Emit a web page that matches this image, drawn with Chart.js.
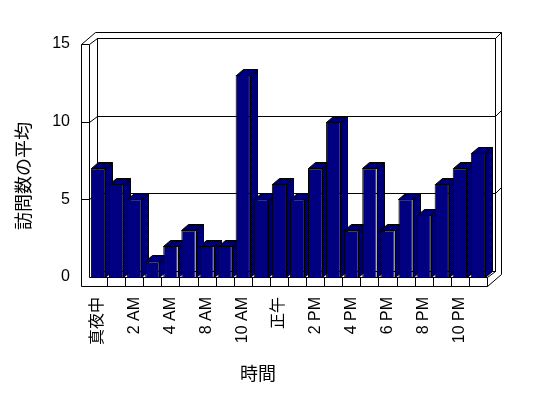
<!DOCTYPE html>
<html>
<head>
<meta charset="utf-8">
<title>訪問数の平均</title>
<script src="https://cdn.jsdelivr.net/npm/chart.js@4.4.1/dist/chart.umd.min.js"></script>
<style>
  html, body { margin: 0; padding: 0; background: #fff; }
  #chart { display: block; }
</style>
</head>
<body>
<canvas id="chart" width="548" height="398"></canvas>
<script>
/* ---------- Data ---------- */
const hourLabels = [
  "真夜中", "1 AM", "2 AM", "3 AM", "4 AM", "6 AM", "8 AM", "9 AM", "10 AM", "11 AM", "正午",
  "1 PM", "2 PM", "3 PM", "4 PM", "5 PM", "6 PM", "7 PM", "8 PM", "9 PM", "10 PM", "11 PM"
];
const visitAverages = [7, 6, 5, 1, 2, 3, 2, 2, 13, 5, 6, 5, 7, 10, 3, 7, 3, 5, 4, 6, 7, 8];
const yTickValues = [0, 5, 10, 15];
const xTitle = "時間";
const yTitle = "訪問数の平均";

const fontFamily = '"Liberation Sans", Arial, "Noto Sans CJK JP", sans-serif';
const barColor = "#000080";

/* ---------- Helpers ---------- */
function makeDitherPattern(ctx) {
  const tile = document.createElement("canvas");
  tile.width = 2;
  tile.height = 2;
  const t = tile.getContext("2d");
  t.fillStyle = "#000";
  t.fillRect(0, 0, 2, 2);
  t.fillStyle = barColor;
  t.fillRect(0, 0, 1, 1);
  t.fillRect(1, 1, 1, 1);
  return ctx.createPattern(tile, "repeat");
}

function line(ctx, x1, y1, x2, y2) {
  ctx.beginPath();
  ctx.moveTo(Math.round(x1) + 0.5, Math.round(y1) + 0.5);
  ctx.lineTo(Math.round(x2) + 0.5, Math.round(y2) + 0.5);
  ctx.stroke();
}

function poly(ctx, pts, fill) {
  ctx.beginPath();
  pts.forEach((p, i) => {
    const px = Math.round(p[0]) + 0.5;
    const py = Math.round(p[1]) + 0.5;
    if (i === 0) ctx.moveTo(px, py);
    else ctx.lineTo(px, py);
  });
  ctx.closePath();
  ctx.fillStyle = fill;
  ctx.fill();
  ctx.stroke();
}

/* ---------- 3D box plugin ---------- */
const box3d = {
  id: "box3d",
  beforeDatasetsDraw(chart) {
    const { ctx, chartArea, scales } = chart;
    const L = chartArea.left, R = chartArea.right, T = chartArea.top, B = chartArea.bottom;
    const wx = 8, wy = -6;     // back wall depth
    const sx = 14, sy = -12;   // outer shell
    const wall = 8, floor = 9; // wall / floor thickness

    ctx.save();
    ctx.strokeStyle = "#000";
    ctx.lineWidth = 1;

    // back wall
    ctx.strokeRect(Math.round(L + wx) + 0.5, Math.round(T + wy) + 0.5,
      Math.round(R - L), Math.round(B - T));

    // grid lines on walls
    yTickValues.forEach((v) => {
      if (v === 0) return;
      const yy = scales.y.getPixelForValue(v);
      line(ctx, L - wall, yy, L, yy);
      line(ctx, L, yy, L + wx, yy + wy);
      line(ctx, L + wx, yy + wy, R + wx, yy + wy);
      line(ctx, R + wx, yy + wy, R + sx, yy + sy);
    });

    // left wall
    line(ctx, L - wall, T, L - wall, B + floor);
    line(ctx, L, T, L, B);
    line(ctx, L - wall, T, L - wall + sx, T + sy);

    // outer shell
    line(ctx, L - wall + sx, T + sy, R + sx, T + sy);
    line(ctx, R + sx, T + sy, R + sx, B + floor + sy);

    // floor
    line(ctx, L - wall, B + floor, R, B + floor);
    line(ctx, L, B, R, B);
    line(ctx, R, B, R, B + floor);
    line(ctx, R, B + floor, R + sx, B + floor + sy);
    line(ctx, R, B, R + wx, B + wy);

    // category dividers on floor front
    const n = hourLabels.length;
    const step = (R - L) / n;
    for (let i = 1; i < n; i++) {
      const xx = scales.x.getPixelForValue(i) - step / 2;
      line(ctx, xx, B, xx, B + floor);
    }

    // bar sides and tops
    const dither = makeDitherPattern(ctx);
    const bx = 7, by = -6;
    chart.getDatasetMeta(0).data.forEach((bar) => {
      const x0 = bar.x - bar.width / 2;
      const x1 = bar.x + bar.width / 2;
      const top = bar.y;
      const base = bar.base;
      poly(ctx, [[x1, top], [x1 + bx, top + by], [x1 + bx, base + by], [x1, base]], dither);
      poly(ctx, [[x0, top], [x0 + bx, top + by], [x1 + bx, top + by], [x1, top]], dither);
    });

    ctx.restore();
  },
  afterDraw(chart) {
    const { ctx } = chart;
    ctx.save();
    ctx.fillStyle = "#000";
    ctx.font = "18px " + fontFamily;
    ctx.textAlign = "center";
    ctx.textBaseline = "middle";
    ctx.fillText(xTitle, 258, 375);
    ctx.translate(25, 176);
    ctx.rotate(-Math.PI / 2);
    ctx.fillText(yTitle, 0, 0);
    ctx.restore();
  }
};

/* ---------- Chart ---------- */
new Chart(document.getElementById("chart"), {
  type: "bar",
  data: {
    labels: hourLabels,
    datasets: [
      {
        data: visitAverages,
        backgroundColor: barColor,
        borderColor: "#000",
        borderWidth: 1,
        barPercentage: 0.79,
        categoryPercentage: 1
      }
    ]
  },
  options: {
    responsive: false,
    animation: false,
    devicePixelRatio: 1,
    layout: {
      padding: { top: 44, right: 61, left: 0, bottom: 0 }
    },
    plugins: {
      legend: { display: false },
      tooltip: { enabled: false }
    },
    scales: {
      x: {
        grid: { display: false, drawTicks: false },
        border: { display: false },
        ticks: {
          autoSkip: false,
          maxRotation: 90,
          minRotation: 90,
          padding: 20,
          color: "#000",
          font: { family: fontFamily, size: 16 },
          callback: function (value, index) {
            return index % 2 === 0 ? hourLabels[index] : "";
          }
        },
        afterFit: function (scale) {
          scale.height = 121;
        }
      },
      y: {
        min: 0,
        max: 15,
        grid: { display: false, drawTicks: false },
        border: { display: false },
        ticks: {
          padding: 19,
          color: "#000",
          font: { family: fontFamily, size: 16 }
        },
        afterBuildTicks: function (scale) {
          scale.ticks = yTickValues.map((v) => ({ value: v }));
        },
        afterFit: function (scale) {
          scale.width = 89;
        }
      }
    }
  },
  plugins: [box3d]
});
</script>
</body>
</html>
